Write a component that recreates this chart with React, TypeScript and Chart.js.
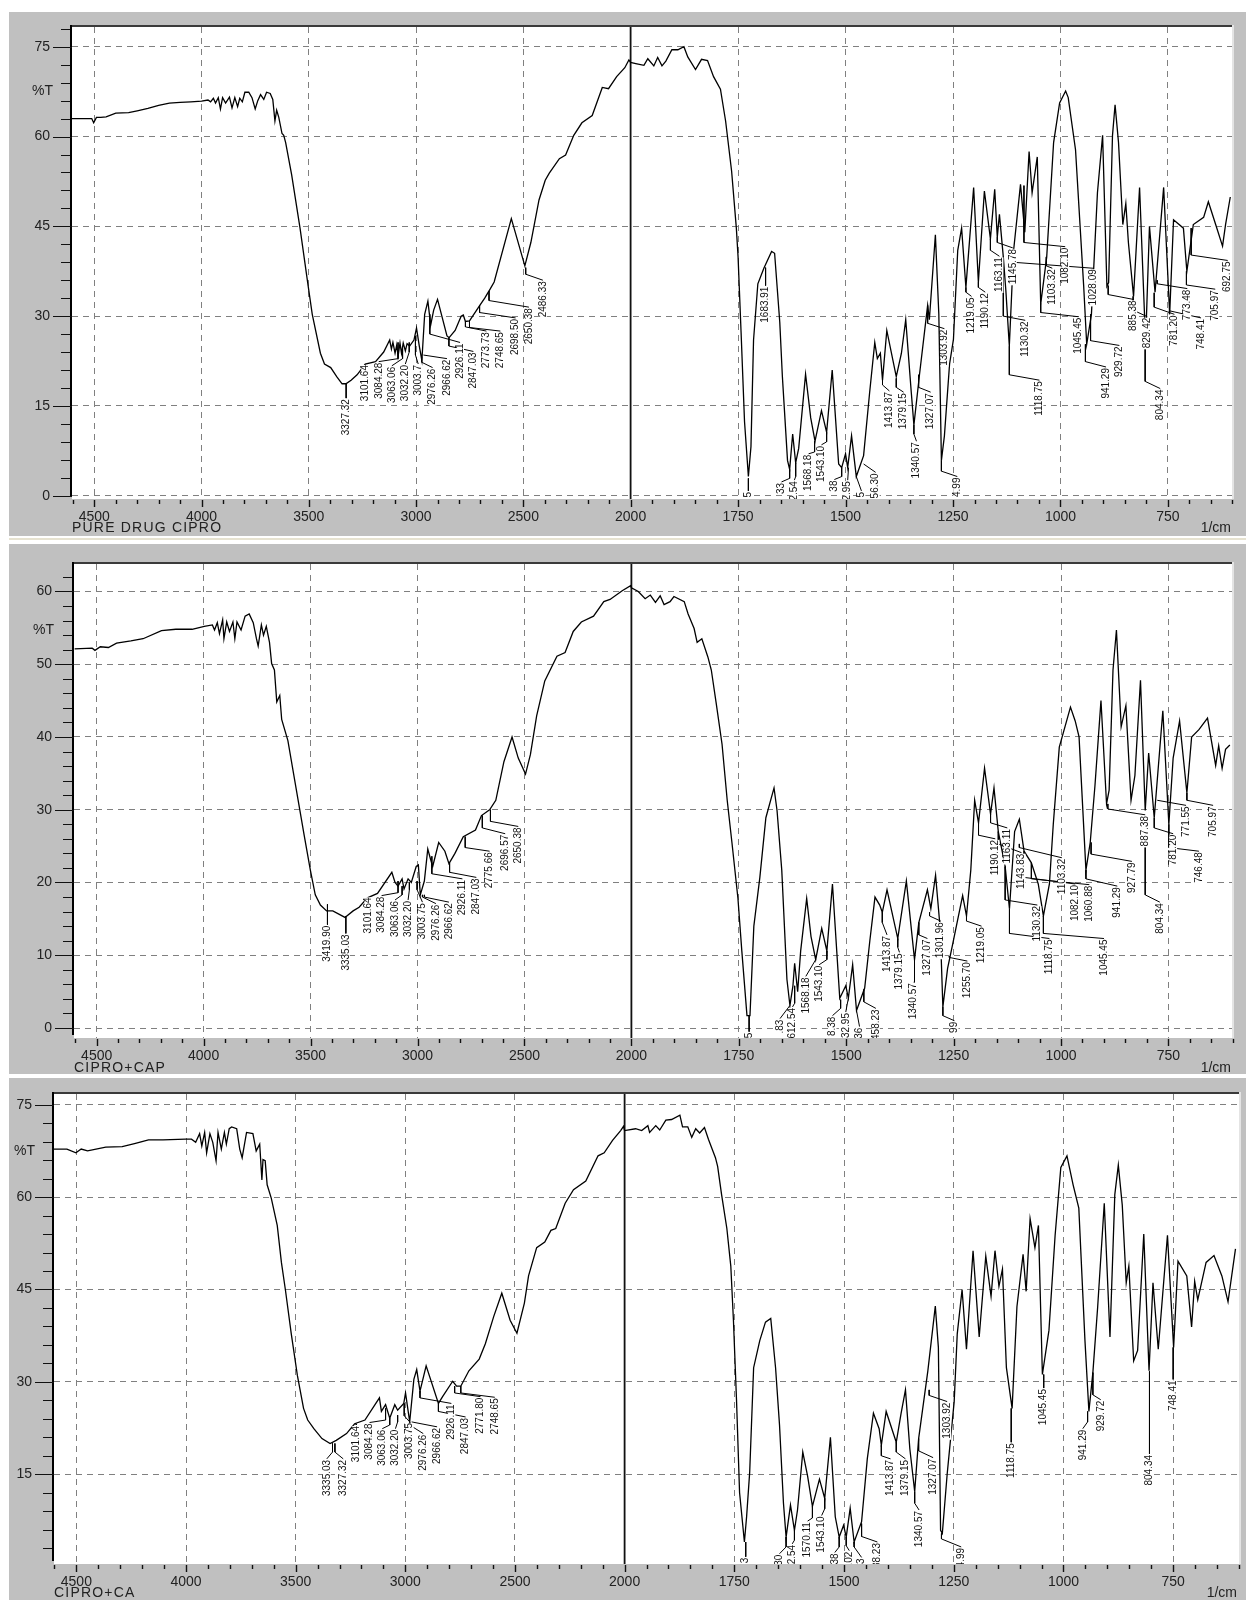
import React, { useEffect, useRef } from "react";
import { Chart, registerables, LinearScale } from "chart.js";

// [wavenumber 1/cm, %T]
const pureSpectrum: [number, number][] = [
  [4604,63],[4530,63],[4512,63],[4503,62.3],[4490,63.2],[4470,63.2],[4445,63.3],[4400,63.9],[4340,64],[4300,64.3],[4250,64.7],[4200,65.2],[4150,65.6],[4100,65.7],[4050,65.8],[4000,65.9],[3970,66.1],[3958,65.8],[3945,66.4],[3935,65.6],[3922,66.5],[3912,64.6],[3902,66.5],[3888,65.6],[3870,66.6],[3858,64.8],[3845,66.5],[3832,65],[3822,66.4],[3810,65.8],[3798,67.4],[3780,67.4],[3765,66.5],[3750,64.6],[3738,66],[3725,67],[3710,66.2],[3697,67.4],[3680,67.2],[3668,66.2],[3658,62.6],[3650,64.4],[3640,63.2],[3625,60.5],[3617,60.2],[3608,59],[3580,53.6],[3541,44.7],[3503,35],[3484,30.3],[3446,23.8],[3427,22],[3398,21.4],[3370,19.9],[3345,18.7],[3327,18.7],[3303,19.3],[3275,20.2],[3237,22],[3189,22.4],[3151,24],[3123,26],[3115,24.5],[3108,25.6],[3098,23.8],[3090,25.2],[3084,23.3],[3075,25.5],[3068,23.8],[3060,25.5],[3050,24.2],[3042,25.4],[3030,25],[3010,26],[2998,28],[2985,25],[2973,22.6],[2960,30.3],[2945,32.5],[2932,28.5],[2918,31],[2900,32.8],[2856,26.7],[2846,26.4],[2818,27.6],[2790,30],[2780,30.2],[2770,29.1],[2751,29.2],[2703,31.8],[2680,33],[2655,34.5],[2636,35.7],[2556,46.3],[2493,38.4],[2465,42.3],[2427,49.4],[2398,52.7],[2379,53.9],[2332,56.3],[2303,56.9],[2265,60.2],[2227,62.3],[2179,63.5],[2132,68.2],[2103,68],[2065,70],[2027,71.5],[2008,72.8],
  [2000,72.4],[1988,72.2],[1969,71.9],[1960,73],[1946,71.8],[1937,73.2],[1927,71.8],[1918,72.6],[1904,74.5],[1890,74.5],[1876,75],[1867,73.3],[1849,71.2],[1835,72.9],[1821,72.7],[1807,70],[1791,67.9],[1779,62.6],[1765,54.2],[1754,44.7],[1750,39.9],[1743,27.3],[1735,12.4],[1726,3.2],[1720,8.2],[1714,26],[1704,35.4],[1690,38],[1672,40.8],[1665,40.5],[1653,29],[1647,20],[1635,5.9],[1630,4.4],[1623,10.3],[1616,5.5],[1609,7.9],[1593,20.3],[1581,13],[1571,9.1],[1556,14.2],[1544,10.6],[1531,21],[1516,5.3],[1509,4.7],[1500,7],[1495,4.7],[1486,10],[1475,3.2],[1458,6.7],[1444,17.2],[1432,25.6],[1426,22.9],[1419,23.8],[1414,19.3],[1404,27.6],[1382,19.9],[1370,23.8],[1360,29.4],[1347,17.2],[1341,11.8],[1328,20.2],[1309,31.8],[1305,29.4],[1291,43.6],[1283,30.3],[1277,5.9],[1270,10],[1258,22],[1249,26.1],[1239,41],[1230,44.7],[1220,34.8],[1202,51.5],[1191,35.7],[1177,50.9],[1163,42.9],[1153,51.2],[1147,43.2],[1142,47],[1133,39.9],[1127,34.2],[1119,25],[1109,41],[1093,52],[1083,44],[1073,57.5],[1066,50.6],[1054,56.6],[1046,32],[1032,39.9],[1016,59],[1002,65.6],[988,67.6],[982,66.5],[965,57.8],[946,35],[939,25.3],[928,30.3],[914,50.6],[902,60.2],[892,35],[888,35.6],[879,60.2],[873,65.3],[865,59],[855,45.3],[848,48.8],[842,42.3],[830,33.3],[816,51.5],[802,25.6],[793,45],[780,34],[760,51.5],[746,30.3],[737,46.1],[714,44.7],[706,37.5],[691,45.3],[667,46.5],[656,49.1],[639,45.3],[623,41.7],[616,45.3],[605,49.9],
];
const capSpectrum: [number, number][] = [
  [4603,52.1],[4521,52.2],[4508,51.9],[4483,52.4],[4445,52.3],[4407,52.9],[4340,53.2],[4283,53.5],[4197,54.6],[4130,54.8],[4054,54.8],[3997,55.2],[3959,55.4],[3949,54.7],[3936,55.7],[3926,54.2],[3911,56.1],[3905,53.5],[3892,55.8],[3879,54.5],[3863,55.8],[3854,53.5],[3844,55.8],[3825,54.7],[3806,56.6],[3787,56.9],[3768,55.7],[3753,53.5],[3745,52.5],[3730,55.4],[3720,54],[3707,55.2],[3692,53],[3682,50.1],[3669,49.2],[3658,44.8],[3644,45.7],[3635,42.4],[3606,39.5],[3558,31.3],[3530,26.5],[3501,21.7],[3478,18.3],[3454,16.9],[3425,16.1],[3396,16.1],[3339,15.2],[3301,16.1],[3273,16.6],[3234,17.9],[3187,18.5],[3120,21.4],[3105,20],[3091,19.5],[3072,20.5],[3063,19.1],[3044,20.5],[3029,20],[3006,22.2],[2996,22.4],[2987,18.3],[2968,20.2],[2952,24.6],[2939,23.2],[2929,22.2],[2901,25.5],[2872,24.3],[2853,22.6],[2825,24],[2786,26.3],[2729,27.2],[2701,29.2],[2663,30],[2634,31.3],[2596,36.6],[2558,40],[2529,37.1],[2495,34.9],[2472,37.6],[2443,42.9],[2405,47.7],[2348,51.1],[2310,51.6],[2272,54.5],[2234,55.8],[2177,56.6],[2129,58.6],[2100,58.9],[2043,60.1],[2004,60.8],
  [2000,60.5],[1984,60],[1968,59],[1956,59.5],[1944,58.5],[1933,59.4],[1924,58.2],[1910,58.6],[1901,59.3],[1877,58.6],[1868,56.9],[1854,54.9],[1847,53],[1836,53.5],[1822,51],[1814,49.2],[1803,44.8],[1789,39],[1777,31.3],[1766,25.5],[1752,17.8],[1743,10.6],[1731,1.7],[1724,1.7],[1715,14],[1701,20.7],[1687,28.9],[1668,33],[1661,29.9],[1650,21.7],[1638,6.7],[1631,3.1],[1624,5.8],[1620,8.9],[1613,5],[1606,10.6],[1592,17.8],[1582,12.6],[1571,9.4],[1557,13.7],[1545,10.6],[1532,19.8],[1515,4.1],[1501,5.8],[1495,4.1],[1485,8.7],[1476,2.4],[1457,5.5],[1445,12],[1433,18],[1422,16.9],[1416,15.9],[1405,19],[1380,12.3],[1360,20.2],[1341,9.4],[1331,14.5],[1311,19],[1303,16.4],[1292,21],[1281,13.5],[1275,2.9],[1264,8.2],[1253,11.3],[1229,18.2],[1220,15.4],[1210,21.7],[1201,31.3],[1192,28.2],[1178,35.7],[1164,29.4],[1156,33],[1146,27],[1130,22.2],[1120,16.4],[1108,27],[1097,28.7],[1086,24.3],[1069,22.7],[1053,19.8],[1041,15.4],[1027,19.8],[1018,28],[1004,38.6],[978,44.1],[967,42.2],[958,40],[942,21.7],[932,25.5],[921,33.3],[907,45],[894,30.8],[888,32.7],[879,49.2],[871,54.7],[860,41.4],[849,44.3],[837,31.3],[828,34.7],[815,47.8],[804,29.9],[796,37.8],[783,28.9],[763,43.6],[749,28],[739,37.1],[724,42.2],[707,32.3],[696,40],[679,41],[659,42.6],[640,36.1],[633,38.8],[625,35.7],[617,38.3],[607,38.9],
];
const caSpectrum: [number, number][] = [
  [4603,67.8],[4543,67.8],[4502,67.2],[4478,67.8],[4449,67.5],[4366,68.1],[4291,68.2],[4235,68.7],[4171,69.3],[4105,69.3],[4002,69.4],[3975,69.4],[3956,68.9],[3938,70.3],[3928,68.3],[3915,70.5],[3906,67.2],[3891,70.3],[3878,68.9],[3863,65.9],[3854,70.5],[3839,67.8],[3825,70.5],[3816,68.6],[3803,71.1],[3792,71.4],[3769,71.1],[3755,67.8],[3744,66.4],[3724,70.5],[3695,70.3],[3680,67.5],[3664,68.6],[3654,62.8],[3649,66.1],[3639,65.9],[3630,62],[3611,59.8],[3584,55.4],[3565,49.4],[3547,45],[3520,37.8],[3492,31],[3464,25.7],[3445,23.8],[3417,22.4],[3380,20.8],[3343,20],[3315,20.5],[3268,21.6],[3231,23.2],[3184,23.8],[3118,27.4],[3109,25.2],[3090,26.3],[3071,24.1],[3048,26.3],[3035,25.4],[3007,26.5],[2999,28.2],[2980,23.5],[2961,30.4],[2948,32],[2933,28.5],[2905,32.6],[2849,26.5],[2830,27.6],[2784,30.1],[2766,29.3],[2747,29.3],[2710,31.8],[2663,33.7],[2635,36.2],[2597,40.6],[2560,44.4],[2522,40],[2491,37.9],[2457,42.8],[2438,47.2],[2401,51.8],[2364,52.7],[2336,54.6],[2314,54.9],[2271,59],[2233,61.2],[2177,62.6],[2121,66.7],[2093,67.2],[2055,69.2],[2018,70.8],[2005,71.5],
  [2000,70.8],[1975,71.1],[1961,70.8],[1947,71.6],[1943,70.5],[1929,71.6],[1920,70.9],[1906,72.5],[1893,72.6],[1874,73.3],[1868,71.4],[1856,71.4],[1847,69.7],[1838,71.1],[1829,70.4],[1818,71.3],[1809,69.4],[1793,66.4],[1788,65],[1779,60.4],[1767,54.9],[1758,48.8],[1752,40],[1745,27.1],[1738,12],[1727,4],[1722,8.1],[1715,15.3],[1706,32.3],[1692,36.7],[1679,39.7],[1667,40.3],[1656,32.3],[1647,23],[1638,10.3],[1632,4.8],[1622,10],[1613,5.9],[1606,9.2],[1594,18.6],[1583,14.7],[1572,9.8],[1556,14.2],[1544,11.1],[1531,21],[1520,8.1],[1511,4.8],[1501,6.7],[1495,4.8],[1486,9.5],[1477,4],[1460,7.3],[1447,17.5],[1433,24.9],[1420,22.4],[1415,19.7],[1404,25.2],[1381,20.2],[1370,24.9],[1360,28.7],[1350,19.1],[1339,12.2],[1330,20.8],[1309,31.8],[1292,42.3],[1285,35.6],[1280,5.9],[1276,5.4],[1265,15],[1249,26.8],[1242,37.8],[1231,45],[1221,35.3],[1206,51.3],[1192,37.3],[1177,50.4],[1165,43.9],[1156,51.3],[1147,45.5],[1139,48.3],[1130,32.3],[1117,25.7],[1106,42.2],[1092,50.7],[1085,44.7],[1076,56.5],[1065,51.8],[1057,55.4],[1048,31.2],[1033,38.4],[1019,53.8],[1006,64.8],[992,66.7],[978,62],[965,58.2],[951,36.7],[942,25.2],[933,31.5],[922,42.2],[907,59],[894,37.3],[883,60.4],[875,65.2],[866,58.7],[857,46.1],[851,48.8],[840,33.4],[831,35.1],[817,54],[805,31.8],[796,46.1],[784,35.3],[763,53.8],[749,35.6],[739,49.6],[719,47.2],[708,38.9],[701,46.3],[694,43.3],[675,49.4],[657,50.5],[639,47.2],[625,43],[608,51.6],
];

// [label, peak wavenumber, peak %T, knee %T, text wavenumber, text-top %T]
type Peak = [string, number, number, number, number, number];
const purePeaks: Peak[] = [
  ["3327.32",3326,18.7,18.7,3326,16.3],["3101.64",3237,22,22,3237,22],["3084.28",3084,25.6,22.9,3174,22.4],["3063.06",3063,24.7,22.9,3113,21.7],["3032.20",3032,25.6,24,3050,22],["3003.7",3003,26.7,23.5,2990,22],["2976.26",2974,23.2,22.3,2923,21.4],["2966.62",2966,23.5,23.5,2856,22.9],["2926.11",2936,30.3,27,2795,25.6],["2847.03",2847,26.4,25,2733,24.1],["2773.73",2770,29.1,28.2,2672,27.5],["2748.65",2751,29.3,28.1,2607,27.5],["2698.50",2704,31.8,30.6,2536,29.7],["2650.38",2660,34.2,32.6,2474,31.5],["2486.33",2489,38.1,37,2409,36],
  ["1683.91",1686,38.1,38.1,1686,35.1],["5",1726,2.9,2.9,1726,0.8],["33",1630,4.4,2.9,1649,2.3],["2.54",1616,5.5,3.2,1619,2.6],["1568.18",1572,9.1,7.3,1586,7],["1543.10",1544,10.6,9,1556,8.5],["38",1509,4.7,3.2,1526,2.7],["2.95",1493,4.7,4.7,1495,2.6],["5",1475,3.2,3.2,1463,0.8],["56.30",1458,5.3,5.3,1430,3.9],["1413.87",1414,19.3,18.5,1398,17.5],["1379.15",1382,19.6,18.1,1365,17.3],["1340.57",1341,11.8,10.3,1335,9.1],["1327.07",1330,20.2,18.1,1302,17.3],["1303.92",1309,31.8,28.8,1270,27.9],["4.99",1277,5.9,4.1,1240,3.2],["1219.05",1220,34.8,34,1207,33.3],["1190.12",1191,35.7,34.8,1175,34],["1163.11",1163,42.9,41,1142,40],["1145.78",1147,43.2,42.3,1111,41.4],["1130.32",1133,39.9,30,1082,29.3],["1118.75",1119,25,20.2,1049,19.3],["1103.32",1033,39.9,38.4,1019,38],["1082.10",1085,51.8,42.3,989,41.6],["1045.45",1046,32.1,30.6,958,29.9],["1028.09",1110,41,39,924,38],["941.29",942,25.3,22.4,894,21.5],["929.72",930,30.3,25.9,863,25.1],["885.38",889,35.1,33.6,831,32.8],["829.42",831,33.3,31,798,29.9],["804.34",803,25.6,19.1,768,17.9],["781.20",782,33.9,31.5,735,30.3],["773.48",775,36,35.4,705,34.6],["748.41",747,30.3,30.9,673,29.7],["705.97",707,37.5,35.2,640,34.5],["692.75",696,44.7,40.2,611,39.3],
];
const capPeaks: Peak[] = [
  ["3419.90",3421,17,17,3421,14.2],["3335.03",3335,15.4,15.4,3335,13],["3101.64",3229,18.1,18.1,3229,18.1],["3084.28",3091,20.2,18.6,3168,18.2],["3063.06",3072,19.5,18.3,3105,17.6],["3032.20",3038,20,19,3044,17.6],["3003.75",3002,20.2,19,2977,17.3],["2976.26",2977,18.3,18,2914,17.1],["2966.62",2968,18.3,18,2853,17.3],["2926.11",2933,23.6,21.2,2790,20.5],["2847.03",2850,22.7,21.4,2725,20.7],["2775.66",2777,26.3,24.8,2663,24.3],["2696.57",2697,29.2,27.5,2590,26.7],["2650.38",2659,30,28.4,2529,27.7],
  ["5",1726,1.7,1.7,1726,-0.5],[".83",1631,3.1,3.1,1654,1.3],["612.54",1620,5.8,3.4,1625,2.9],["1568.18",1571,9.4,9.4,1594,7.1],["1543.10",1545,10.6,9.4,1563,8.7],["8.38",1513,3.9,2.7,1532,1.7],["32.95",1495,4.1,4.1,1501,2.2],["36",1476,2.4,2.4,1469,0.2],["458.23",1459,5.3,3.6,1431,2.7],["1413.87",1416,15.9,14.5,1405,12.8],["1379.15",1380,12.3,11.1,1376,10.4],["1340.57",1341,9.4,6.3,1343,6.3],["1327.07",1331,14.5,12.8,1311,12.3],["1301.96",1306,15.9,15.4,1280,14.7],["99",1275,2.9,1.7,1248,1],["1255.70",1260,9.9,9.7,1218,9.2],["1219.05",1220,15.4,14.7,1185,14],["1190.12",1192,28.2,26.5,1153,26],["1163.11",1164,29.4,28.2,1125,27.5],["1143.83",1146,27,25.3,1092,24.1],["1103.32",1097,25.3,24.8,998,23.4],["1082.10",1086,24.3,20.7,967,19.8],["1060.88",1069,22.7,20.5,934,19.7],["1130.32",1130,22.2,17.6,1055,16.9],["1118.75",1120,16.4,13,1027,12.3],["1045.45",1041,15.4,13,900,12.3],["941.29",942,21.7,20.5,869,19.5],["927.79",930,25.5,23.9,835,22.9],["887.38",891,30.8,30.1,804,29.3],["804.34",804,25,18.3,770,17.3],["781.20",783,28.9,27.5,739,26.7],["771.55",776,31.3,31.3,709,30.6],["746.48",749,28,24.8,679,24.3],["705.97",707,32.3,31.3,646,30.6],
];
const caPeaks: Peak[] = [
  ["3335.03",3332,20,18.6,3358,17.5],["3327.32",3321,20,18.6,3283,17.5],["3101.64",3224,23.2,23.2,3224,23],["3084.28",3090,25.7,23.8,3163,23.4],["3063.06",3071,24.1,23,3105,22.4],["3032.20",3035,24.6,23.5,3045,22.4],["3003.75",3005,26.5,24.5,2980,23.5],["2976.26",2980,23.5,23,2918,21.6],["2966.62",2971,23.5,23.5,2855,22.7],["2926.11",2933,28.5,27.4,2790,26.5],["2847.03",2849,26.5,25.2,2725,24.3],["2771.80",2775,29.3,28.2,2657,27.6],["2748.65",2747,29.3,28.2,2592,27.5],
  ["3",1724,4,2.3,1724,1.6],["30",1632,4.8,3.2,1647,2.1],["2.54",1613,5.9,4.3,1618,3.7],["1570.11",1572,9.8,7.9,1583,7.4],["1543.10",1544,11.1,9.4,1551,8.3],["38",1511,4.8,3.2,1521,2.3],[".02",1495,4.8,3.4,1488,2.6],["3",1477,4,3.2,1460,1.5],["38.23",1460,7,4.9,1424,4],["1413.87",1415,19.7,18,1394,17.5],["1379.15",1381,20.2,18.6,1360,17.5],["1340.57",1339,12.2,10.3,1329,9.2],["1327.07",1330,20.8,18.8,1297,17.7],["1303.92",1306,28.7,27.8,1265,26.8],["4.99",1278,5.4,4.5,1233,3.2],["1118.75",1119,25.7,25.7,1119,20.2],["1045.45",1045,31.2,31.2,1045,29],["941.29",945,25.2,23.5,956,22.4],["929.72",933,31.5,27.9,915,27.1],["804.34",804,31.7,31.7,804,18.3],["748.41",750,35.6,35.6,750,30.4],
];

const xMajorTicks = [4500, 4000, 3500, 3000, 2500, 2000, 1750, 1500, 1250, 1000, 750];
const xMinorLeft = [4600,4400,4300,4200,4100,3900,3800,3700,3600,3400,3300,3200,3100,2900,2800,2700,2600,2400,2300,2200,2100];
const xMinorRight = [1950,1900,1850,1800,1700,1650,1600,1550,1450,1400,1350,1300,1200,1150,1100,1050,950,900,850,800,700,650,600];
const pureYMajor = [75, 60, 45, 30, 15, 0];
const capYMajor = [60, 50, 40, 30, 20, 10, 0];
const caYMajor = [75, 60, 45, 30, 15];

const GRAY = "#c0c0c0";
const BREAK_VALUE = 2000;

class WavenumberScale extends (LinearScale as any) {
  static id = "wavenumber";
  static defaults = (LinearScale as any).defaults;
  getPixelForValue(value: number) {
    const o = this.options;
    const f =
      value >= BREAK_VALUE
        ? (o.breakFraction * (this.max - value)) / (this.max - BREAK_VALUE)
        : o.breakFraction + ((1 - o.breakFraction) * (BREAK_VALUE - value)) / (BREAK_VALUE - this.min);
    return this.left + f * this.width;
  }
  getValueForPixel(pixel: number) {
    const o = this.options;
    const f = (pixel - this.left) / this.width;
    return f <= o.breakFraction
      ? this.max - (f / o.breakFraction) * (this.max - BREAK_VALUE)
      : BREAK_VALUE - ((f - o.breakFraction) / (1 - o.breakFraction)) * (BREAK_VALUE - this.min);
  }
}
Chart.register(...registerables, WavenumberScale as any);

interface Panel {
  spectrum: [number, number][];
  peaks: Peak[];
  yMajor: number[];
  yStep: number;
  title: string;
  top: number;
  bottom: number;
  plotTop: number;
  plotBottom: number;
  plotLeft: number;
  plotRight: number;
  yMin: number;
  yMax: number;
  xMax: number;
  xMin: number;
  breakPx: number;
  unitLabelY: number;
  unitLabelX: number;
  footerY: number;
  cmRight: number;
}

const panels: Panel[] = [
  { spectrum: pureSpectrum, peaks: purePeaks, yMajor: pureYMajor, yStep: 3, title: "PURE DRUG CIPRO", top: 12, bottom: 536, plotTop: 27, plotBottom: 499, plotLeft: 72, plotRight: 1232, yMin: -0.55, yMax: 78.3, xMax: 4604, xMin: 601, breakPx: 630.6, unitLabelY: 91, unitLabelX: 32, footerY: 528, cmRight: 1231 },
  { spectrum: capSpectrum, peaks: capPeaks, yMajor: capYMajor, yStep: 2, title: "CIPRO+CAP", top: 544, bottom: 1074, plotTop: 564, plotBottom: 1038, plotLeft: 74, plotRight: 1232, yMin: -1.37, yMax: 63.77, xMax: 4606, xMin: 602, breakPx: 631.4, unitLabelY: 630, unitLabelX: 33, footerY: 1068, cmRight: 1231 },
  { spectrum: caSpectrum, peaks: caPeaks, yMajor: caYMajor, yStep: 3, title: "CIPRO+CA", top: 1078, bottom: 1600, plotTop: 1094, plotBottom: 1564, plotLeft: 54, plotRight: 1239, yMin: 0.43, yMax: 76.74, xMax: 4602, xMin: 600, breakPx: 624.6, unitLabelY: 1151, unitLabelX: 14, footerY: 1593, cmRight: 1237 },
];

const CANVAS_LEFT = 9;

function frame(panel: Panel) {
  return {
    id: "panelFrame",
    beforeDraw(chart: any) {
      const { ctx, chartArea: a, width, height } = chart;
      ctx.save();
      ctx.fillStyle = GRAY;
      ctx.fillRect(0, 0, width, height);
      ctx.fillStyle = "#ffffff";
      ctx.fillRect(a.left, a.top, a.right - a.left, a.bottom - a.top);
      ctx.restore();
    },
    afterDatasetsDraw(chart: any) {
      const { ctx, chartArea: a } = chart;
      const x = chart.scales.x;
      const y = chart.scales.y;
      ctx.save();
      ctx.beginPath();
      ctx.rect(a.left, a.top, a.right - a.left, a.bottom - a.top);
      ctx.clip();
      ctx.font = "10px 'Liberation Sans'";
      ctx.textAlign = "right";
      ctx.textBaseline = "middle";
      for (const [label, , , , tw, tt] of panel.peaks) {
        const px = x.getPixelForValue(tw);
        const py = y.getPixelForValue(tt) + 1;
        const w = ctx.measureText(label).width;
        ctx.fillStyle = "#ffffff";
        ctx.fillRect(px - 4, py, 8, w + 1);
        ctx.save();
        ctx.translate(px, py);
        ctx.rotate(-Math.PI / 2);
        ctx.fillStyle = "#111111";
        ctx.fillText(label, 0, 0);
        ctx.restore();
      }
      ctx.restore();
    },
    afterDraw(chart: any) {
      const { ctx, chartArea: a } = chart;
      const x = chart.scales.x;
      const y = chart.scales.y;
      ctx.save();
      // plot frame
      ctx.fillStyle = "#3a3a3a";
      ctx.fillRect(a.left - 1, a.top - 2, a.right - a.left + 1, 2);
      ctx.fillStyle = "#e4e4e4";
      ctx.fillRect(a.right, a.top - 2, 2, a.bottom - a.top + 2);
      ctx.fillStyle = "#000000";
      ctx.fillRect(a.left - 2, a.top - 2, 2, a.bottom - a.top - 1);
      // tick marks
      ctx.strokeStyle = "#111111";
      ctx.lineWidth = 1;
      ctx.beginPath();
      for (const t of y.ticks) {
        const py = Math.round(y.getPixelForValue(t.value)) + 0.5;
        const major = panel.yMajor.includes(t.value);
        ctx.moveTo(a.left - (major ? 19 : 11), py);
        ctx.lineTo(a.left - (major ? 0 : 2), py);
      }
      ctx.stroke();
      ctx.lineWidth = 1.4;
      ctx.beginPath();
      for (const t of x.ticks) {
        const px = Math.round(x.getPixelForValue(t.value)) + 0.5;
        ctx.moveTo(px, a.bottom + 1);
        ctx.lineTo(px, a.bottom + (xMajorTicks.includes(t.value) ? 8 : 5));
      }
      ctx.stroke();
      // fixed captions
      ctx.fillStyle = "#222222";
      ctx.textBaseline = "middle";
      ctx.font = "14px 'Liberation Sans'";
      ctx.textAlign = "left";
      ctx.fillText("%T", panel.unitLabelX - CANVAS_LEFT, panel.unitLabelY - panel.top);
      (ctx as any).letterSpacing = "1.2px";
      ctx.fillText(panel.title, panel.plotLeft - CANVAS_LEFT, panel.footerY - panel.top);
      (ctx as any).letterSpacing = "0px";
      ctx.textAlign = "right";
      ctx.fillText("1/cm", panel.cmRight - CANVAS_LEFT, panel.footerY - panel.top);
      ctx.restore();
    },
  };
}

function buildChart(canvas: HTMLCanvasElement, panel: Panel) {
  const leaders: ({ x: number | null; y: number | null })[] = [];
  for (const [label, pw, pt, kt, tw, tt] of panel.peaks) {
    leaders.push({ x: pw, y: pt }, { x: pw, y: kt }, { x: tw, y: tt }, { x: null, y: null });
  }
  const plotWidth = panel.plotRight - panel.plotLeft;
  return new Chart(canvas, {
    type: "line",
    data: {
      datasets: [
        {
          label: panel.title,
          data: panel.spectrum.map(([x, y]) => ({ x, y })),
          borderColor: "#000000",
          borderWidth: 1.3,
          pointRadius: 0,
          tension: 0,
        },
        {
          label: "peak leaders",
          data: leaders,
          borderColor: "#000000",
          borderWidth: 1,
          pointRadius: 0,
          tension: 0,
          spanGaps: false,
        },
        {
          label: "scale change",
          data: [
            { x: BREAK_VALUE, y: panel.yMin },
            { x: BREAK_VALUE, y: panel.yMax },
          ],
          borderColor: "#111111",
          borderWidth: 1.8,
          pointRadius: 0,
        },
      ],
    } as any,
    options: {
      animation: false,
      responsive: false,
      maintainAspectRatio: false,
      events: [],
      layout: {
        padding: {
          top: panel.plotTop - panel.top,
          right: 1246 - panel.plotRight,
          left: 0,
          bottom: 0,
        },
      },
      plugins: { legend: { display: false }, tooltip: { enabled: false } },
      scales: {
        x: {
          type: "wavenumber",
          min: panel.xMin,
          max: panel.xMax,
          breakFraction: (panel.breakPx - panel.plotLeft) / plotWidth,
          afterFit(s: any) {
            s.height = panel.bottom - panel.plotBottom;
          },
          afterBuildTicks(s: any) {
            s.ticks = [...xMajorTicks, ...xMinorLeft, ...xMinorRight].map((value) => ({ value }));
          },
          grid: {
            color: (c: any) => (xMajorTicks.includes(c.tick?.value) && c.tick?.value !== 2000 ? "#808080" : "rgba(0,0,0,0)"),
            tickColor: "rgba(0,0,0,0)",
            tickLength: 8,
            lineWidth: 1,
          },
          border: { display: false, dash: [6, 5] },
          ticks: {
            autoSkip: false,
            maxRotation: 0,
            minRotation: 0,
            padding: 2,
            color: "#222222",
            font: { family: "'Liberation Sans'", size: 14 },
            callback: (v: any) => (xMajorTicks.includes(Number(v)) ? String(v) : ""),
          },
        },
        y: {
          type: "linear",
          min: panel.yMin,
          max: panel.yMax,
          afterFit(s: any) {
            s.width = panel.plotLeft - CANVAS_LEFT;
          },
          afterBuildTicks(s: any) {
            const list: { value: number }[] = [];
            for (let v = panel.yMajor[panel.yMajor.length - 1] % panel.yStep; v <= panel.yMax; v += panel.yStep) {
              if (v >= panel.yMin) list.push({ value: v });
            }
            s.ticks = list;
          },
          grid: {
            color: (c: any) => (panel.yMajor.includes(c.tick?.value) ? "#808080" : "rgba(0,0,0,0)"),
            tickColor: "rgba(0,0,0,0)",
            tickLength: 19,
            lineWidth: 1,
          },
          border: { display: false, dash: [6, 5] },
          ticks: {
            autoSkip: false,
            padding: 3,
            color: "#222222",
            font: { family: "'Liberation Sans'", size: 14 },
            callback: (v: any) => (panel.yMajor.includes(Number(v)) ? String(v) : ""),
          },
        },
      } as any,
    },
    plugins: [frame(panel)],
  });
}

function PanelChart({ panel }: { panel: Panel }) {
  const ref = useRef<HTMLCanvasElement>(null);
  useEffect(() => {
    if (!ref.current) return;
    const chart = buildChart(ref.current, panel);
    return () => chart.destroy();
  }, [panel]);
  return (
    <canvas
      ref={ref}
      width={1246 - CANVAS_LEFT}
      height={panel.bottom - panel.top}
      style={{ position: "absolute", left: CANVAS_LEFT, top: panel.top, display: "block" }}
    />
  );
}

export default function App() {
  return (
    <div style={{ position: "absolute", left: 0, top: 0, width: 1246, height: 1600, background: "#ffffff", overflow: "hidden" }}>
      <div style={{ position: "absolute", left: 9, top: 538, width: 1237, height: 2, background: "#e6e2d0" }} />
      {panels.map((p) => (
        <PanelChart key={p.title} panel={p} />
      ))}
    </div>
  );
}
